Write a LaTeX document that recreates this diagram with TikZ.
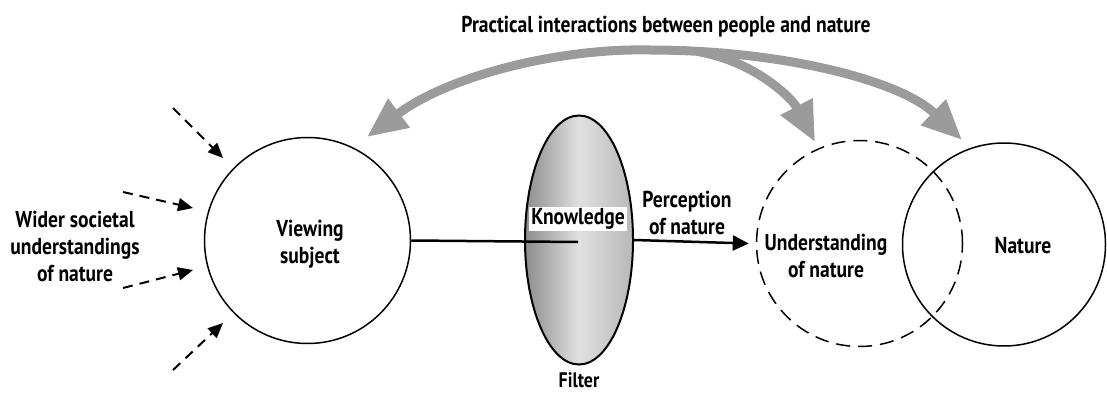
\documentclass[tikz,border=0pt]{standalone}
\usepackage{fontspec}
\setmainfont{PT Sans}[FakeStretch=0.85]
\usetikzlibrary{arrows.meta,shapes.geometric}
\definecolor{arrowgray}{RGB}{155,155,155}
\begin{document}
\begin{tikzpicture}[x=1pt,y=-1pt,
  lbl/.style={font=\bfseries\fontsize{23}{27}\selectfont,align=center,inner sep=1pt},
  ring/.style={circle,draw,line width=1.5pt,inner sep=0pt},
  dasharrow/.style={draw,line width=2pt,dash pattern=on 10pt off 7pt,-{Triangle[length=15pt,width=13pt]}},
  flow/.style={draw,line width=2.5pt},
  bigarrow/.style={draw=arrowgray,line width=9pt,line cap=butt},
  bighead/.style={-{Triangle[length=40pt,width=34pt,fill=arrowgray]}}]
\useasboundingbox (0,0) rectangle (1107,396);
% title
\node[lbl] (title) at (666,27) {Practical interactions between people and nature};
% circles
\node[ring,minimum size=206pt] (vs) at (307.5,240.5) {};
\node[lbl] (vstext) at (310,244) {Viewing\\subject};
\node[ring,dash pattern=on 14pt off 8pt,minimum size=206pt] (und) at (859.5,243.5) {};
\node[ring,minimum size=203pt] (nat) at (1004,244.5) {};
\node[lbl] (undtext) at (826,256) {Understanding\\of nature};
\node[lbl] (nattext) at (1023,246) {Nature};
% filter ellipse
\node[ellipse,draw,line width=2pt,minimum width=108pt,minimum height=249pt,inner sep=0pt,
      left color=black!45,right color=black!28,middle color=black!12] (filter) at (579,240) {};
\node[lbl,font=\bfseries\fontsize{21}{25}\selectfont,inner sep=0pt] (filtertext) at (579,380) {Filter};
\coordinate (kend) at (578,242);
\draw[flow] (vs.east) -- (kend);
\node[lbl,fill=white,inner sep=2pt] (know) at (578,219) {Knowledge};
\draw[flow,-{Triangle[length=16pt,width=15pt]}] (filter.east) -- ([xshift=-7pt]und.west);
\node[lbl] (perc) at (687,213) {Perception\\of nature};
% wider societal
\node[lbl] (wider) at (75,246) {Wider societal\\understandings\\of nature};
\coordinate (a1) at (173,108); \coordinate (b1) at (223,158);
\coordinate (a2) at (123,192); \coordinate (b2) at (193,208);
\coordinate (a3) at (123,288); \coordinate (b3) at (193,270);
\coordinate (a4) at (173,370); \coordinate (b4) at (223,323);
\draw[dasharrow] (a1) -- (b1);
\draw[dasharrow] (a2) -- (b2);
\draw[dasharrow] (a3) -- (b3);
\draw[dasharrow] (a4) -- (b4);
% gray interaction arrows
\coordinate (lt) at (367,137);
\coordinate (top) at (650,50);
\coordinate (rt) at (962,140);
\coordinate (mt) at (815,142);
\coordinate (br) at (700,52);
\draw[bigarrow,bighead] (top) .. controls (560,48) and (450,75) .. (lt);
\draw[bigarrow,bighead] (top) .. controls (780,50) and (900,80) .. (rt);
\draw[bigarrow,bighead] (br) .. controls (755,62) and (792,98) .. (mt);
\end{tikzpicture}
\end{document}
